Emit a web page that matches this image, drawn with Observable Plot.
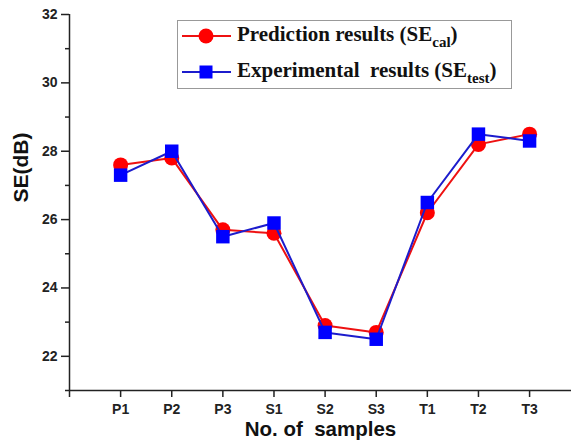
<!DOCTYPE html>
<html><head><meta charset="utf-8">
<script src="https://cdn.jsdelivr.net/npm/d3@7"></script>
<script src="https://cdn.jsdelivr.net/npm/@observablehq/plot@0.6"></script>
<style>
body{margin:0;background:#fff;}
#wrap{position:relative;width:571px;height:443px;}
#legend{position:absolute;left:177px;top:20px;width:333px;height:67px;border:1px solid #999;background:#fff;font-family:"Liberation Serif",serif;font-weight:bold;font-size:21px;color:#111;}
.row{position:absolute;left:0;height:30px;display:flex;align-items:center;white-space:nowrap;}
.row svg{margin-left:4px;margin-right:6px;}
sub{font-size:15px;vertical-align:-6px;}
</style>
</head><body>
<div id="wrap"></div>
<script>
const categories = ["P1","P2","P3","S1","S2","S3","T1","T2","T3"];
const predicted = [27.6, 27.8, 25.7, 25.6, 22.9, 22.7, 26.2, 28.2, 28.5];
const experimental = [27.3, 28.0, 25.5, 25.9, 22.7, 22.5, 26.5, 28.5, 28.3];
const yMajor = [22, 24, 26, 28, 30, 32];
const yMinor = [21, 23, 25, 27, 29, 31];

const pred = categories.map((c, i) => ({idx: i + 1, cat: c, v: predicted[i]}));
const exp = categories.map((c, i) => ({idx: i + 1, cat: c, v: experimental[i]}));
const xTicks = [0, ...categories.map((c, i) => i + 1)];

const font = "Liberation Sans, Arial, sans-serif";
const chart = Plot.plot({
  width: 571, height: 443,
  marginLeft: 69, marginTop: 14, marginBottom: 53, marginRight: 0,
  style: {fontFamily: font, fontSize: "14px", fontWeight: "bold", background: "#fff", overflow: "visible"},
  x: {type: "linear", domain: [0, 9.82]},
  y: {domain: [21, 32]},
  marks: [
    Plot.axisY({ticks: yMinor, tickSize: 4, tickFormat: () => "", stroke: "#222", strokeWidth: 1.5, label: null}),
    Plot.axisY({ticks: yMajor, tickSize: 8, tickPadding: 4, tickFormat: d => String(d), fontSize: 14, fill: "#222", stroke: "#222", strokeWidth: 1.5, label: null}),
    Plot.axisX({ticks: xTicks, tickSize: 7, tickPadding: 7, tickFormat: d => d === 0 ? "" : categories[d - 1], fontSize: 14, fill: "#222", stroke: "#222", strokeWidth: 1.5, label: null}),
    Plot.ruleX([0], {stroke: "#222", strokeWidth: 1.5}),
    Plot.ruleY([21], {stroke: "#222", strokeWidth: 1.5}),
    Plot.lineY(pred, {x: "idx", y: "v", stroke: "#ee1111", strokeWidth: 2}),
    Plot.dot(pred, {x: "idx", y: "v", r: 7.5, fill: "#ff0000", stroke: "none", symbol: "circle"}),
    Plot.lineY(exp, {x: "idx", y: "v", stroke: "#1c1ccc", strokeWidth: 2}),
    Plot.dot(exp, {x: "idx", y: "v", r: 7.6, fill: "#0000ff", stroke: "none", symbol: "square"}),
    Plot.text(["SE(dB)"], {frameAnchor: "left", dx: -48, rotate: -90, fontSize: 21, fill: "#111"}),
    Plot.text(["No. of  samples"], {frameAnchor: "bottom", dy: 45, fontSize: 20.5, fill: "#111"})
  ]
});
const wrap = document.getElementById("wrap");
wrap.appendChild(chart);

const legend = document.createElement("div");
legend.id = "legend";
legend.innerHTML = `
<div class="row" style="top:0px">
  <svg width="49" height="16"><line x1="0" y1="8" x2="49" y2="8" stroke="#ee1111" stroke-width="2"/><circle cx="24" cy="8" r="7.5" fill="#f00"/></svg>
  <span>Prediction results (SE<sub>cal</sub>)</span>
</div>
<div class="row" style="top:36px">
  <svg width="49" height="16"><line x1="0" y1="8" x2="49" y2="8" stroke="#1c1ccc" stroke-width="2"/><rect x="17.5" y="1.5" width="13" height="13" fill="#00f"/></svg>
  <span>Experimental&nbsp; results (SE<sub>test</sub>)</span>
</div>`;
wrap.appendChild(legend);
</script>
</body></html>
